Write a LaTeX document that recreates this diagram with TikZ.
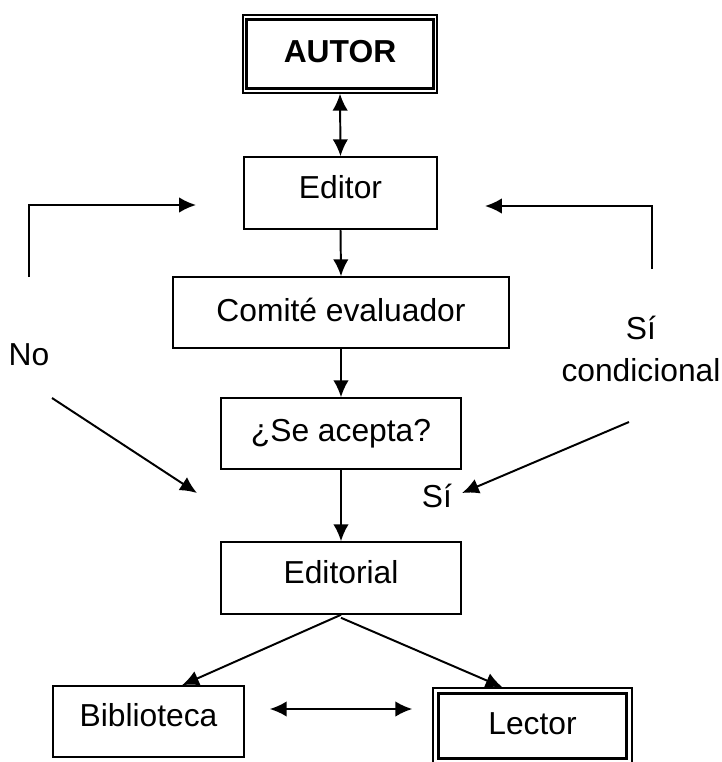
\documentclass[tikz,border=0pt]{standalone}
\usepackage{fontspec}
\setmainfont{Liberation Sans}
\usetikzlibrary{arrows.meta,calc}
\tikzset{>={Latex[length=12pt,width=11pt]}}
\tikzset{
  caja/.style={draw,line width=1.1pt,inner sep=0pt,font=\fontsize{22.6}{29.8}\selectfont},
  cajadoble/.style={draw,line width=1pt,inner sep=0pt,font=\fontsize{22.6}{29.8}\selectfont},
  marcointerior/.style={line width=1.9pt},
  flecha/.style={->,line width=1.4pt},
  etiqueta/.style={inner sep=0pt,align=center,font=\fontsize{22.6}{29.8}\selectfont}
}

\begin{document}
\begin{tikzpicture}[x=0.025cm,y=-0.025cm]
  \useasboundingbox (0,0) rectangle (722,762);

  % Cajas
  \node[cajadoble,minimum width=4.85cm,minimum height=1.95cm,text depth=4pt] (autor) at (340,54) {\textbf{AUTOR}};
  \node[caja,minimum width=4.825cm,minimum height=1.8cm,text depth=9pt] (editor) at (340.5,193) {Editor};
  \node[caja,minimum width=8.4cm,minimum height=1.775cm,text depth=4pt] (comite) at (341,312.5) {Comité evaluador};
  \node[caja,minimum width=6cm,minimum height=1.775cm] (acepta) at (341,433.5) {¿Se acepta?};
  \node[caja,minimum width=6cm,minimum height=1.8cm,text depth=9pt] (editorial) at (341,578) {Editorial};
  \node[caja,minimum width=4.775cm,minimum height=1.775cm,text depth=9pt] (biblioteca) at (148.5,721.5) {Biblioteca};
  \node[cajadoble,minimum width=4.975cm,minimum height=1.9cm,text depth=3pt] (lector) at (532.5,726) {Lector};

  % Marcos interiores
  \draw[marcointerior] ([shift={(4,5)}]autor.north west) rectangle ([shift={(-4,-5)}]autor.south east);
  \draw[marcointerior] ([shift={(6,6)}]lector.north west) rectangle ([shift={(-6,-6)}]lector.south east);

  % Etiquetas
  \node[etiqueta,anchor=base] (no) at (29,365) {No};
  \node[etiqueta] (sicond) at (641,349) {Sí\\condicional};
  \node[etiqueta,anchor=base] (si) at (437,507) {Sí};

  % Puntos libres
  \coordinate (noinicio) at (29,277);
  \coordinate (noesquina) at (29,205);
  \coordinate (nofin) at (196,205);
  \coordinate (nodiagini) at (52,398);
  \coordinate (nodiagfin) at (197,493);
  \coordinate (siinicio) at (652,269);
  \coordinate (siesquina) at (652,206);
  \coordinate (sifin) at (485,206);
  \coordinate (sidiagini) at (629,422);
  \coordinate (sidiagfin) at (462,493);

  % Flechas
  \draw[flecha,<->] (autor.south) -- (editor.north);
  \draw[flecha] (editor.south) -- (comite.north);
  \draw[flecha] (comite.south) -- (acepta.north);
  \draw[flecha] (acepta.south) -- (editorial.north);
  \draw[flecha] (editorial.south) -- ([shift={(33.5,0)}]biblioteca.north);
  \draw[flecha] ([shift={(0,3)}]editorial.south) -- ([shift={(-30,0)}]lector.north);
  \draw[flecha,<->] ([shift={(25,-12.5)}]biblioteca.east) -- ([shift={(-20,-17)}]lector.west);

  \draw[flecha] (noinicio) -- (noesquina) -- (nofin);
  \draw[flecha] (nodiagini) -- (nodiagfin);
  \draw[flecha] (siinicio) -- (siesquina) -- (sifin);
  \draw[flecha] (sidiagini) -- (sidiagfin);
\end{tikzpicture}
\end{document}
